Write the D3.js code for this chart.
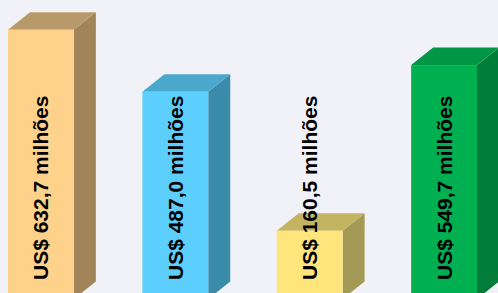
<!DOCTYPE html>
<html>
<head>
<meta charset="utf-8">
<script src="https://cdn.jsdelivr.net/npm/d3@7"></script>
<style>
  html, body { margin: 0; padding: 0; background: #f0f2f8; }
  svg { display: block; }
  .label { font-family: "Liberation Sans", Arial, sans-serif; font-weight: bold; font-size: 21px; fill: #000; }
</style>
</head>
<body>
<svg class="bar-chart"></svg>
<script>
const categories = ['a', 'b', 'c', 'd'];
const values = [632.7, 487.0, 160.5, 549.7];
const labels = ['US$ 632,7 milhões', 'US$ 487,0 milhões', 'US$ 160,5 milhões', 'US$ 549,7 milhões'];
const frontColors = ['#ffd28c', '#5ccfff', '#ffe57c', '#00b050'];
const topColors = ['#b89a6a', '#4aa8cd', '#c2b460', '#009646'];
const sideColors = ['#a18559', '#3a8aa9', '#a39a56', '#007d39'];

const width = 498;
const height = 293;
const base = 299;
const depth = { dx: 22, dy: 17.5 };

const svg = d3.select('svg.bar-chart')
  .attr('width', width)
  .attr('height', height);

const x = d3.scaleBand()
  .domain(categories)
  .range([8, 477])
  .paddingInner(0.51)
  .paddingOuter(0);

const y = d3.scaleLinear()
  .domain([0, 700])
  .range([base, base - 0.4255 * 700]);

const line = d3.line();

const bars = svg.selectAll('g.bar')
  .data(categories)
  .enter().append('g')
  .attr('class', 'bar');

bars.each(function (c, i) {
  const g = d3.select(this);
  const x0 = x(c);
  const x1 = x0 + x.bandwidth();
  const yt = y(values[i]);
  const { dx, dy } = depth;

  // side face
  g.append('path')
    .attr('d', line([[x1, yt], [x1 + dx, yt - dy], [x1 + dx, base - dy], [x1, base]]) + 'Z')
    .style('fill', sideColors[i]);

  // top face
  g.append('path')
    .attr('d', line([[x0, yt], [x0 + dx, yt - dy], [x1 + dx, yt - dy], [x1, yt]]) + 'Z')
    .style('fill', topColors[i]);

  // front face
  g.append('rect')
    .attr('x', x0)
    .attr('y', yt)
    .attr('width', x.bandwidth())
    .attr('height', base - yt)
    .style('fill', frontColors[i]);
});

svg.selectAll('text.label')
  .data(categories)
  .enter().append('text')
  .attr('class', 'label')
  .attr('transform', c => `translate(${x(c) + x.bandwidth() / 2 + 7.5}, 280) rotate(-90)`)
  .attr('text-anchor', 'start')
  .text((c, i) => labels[i]);
</script>
</body>
</html>
